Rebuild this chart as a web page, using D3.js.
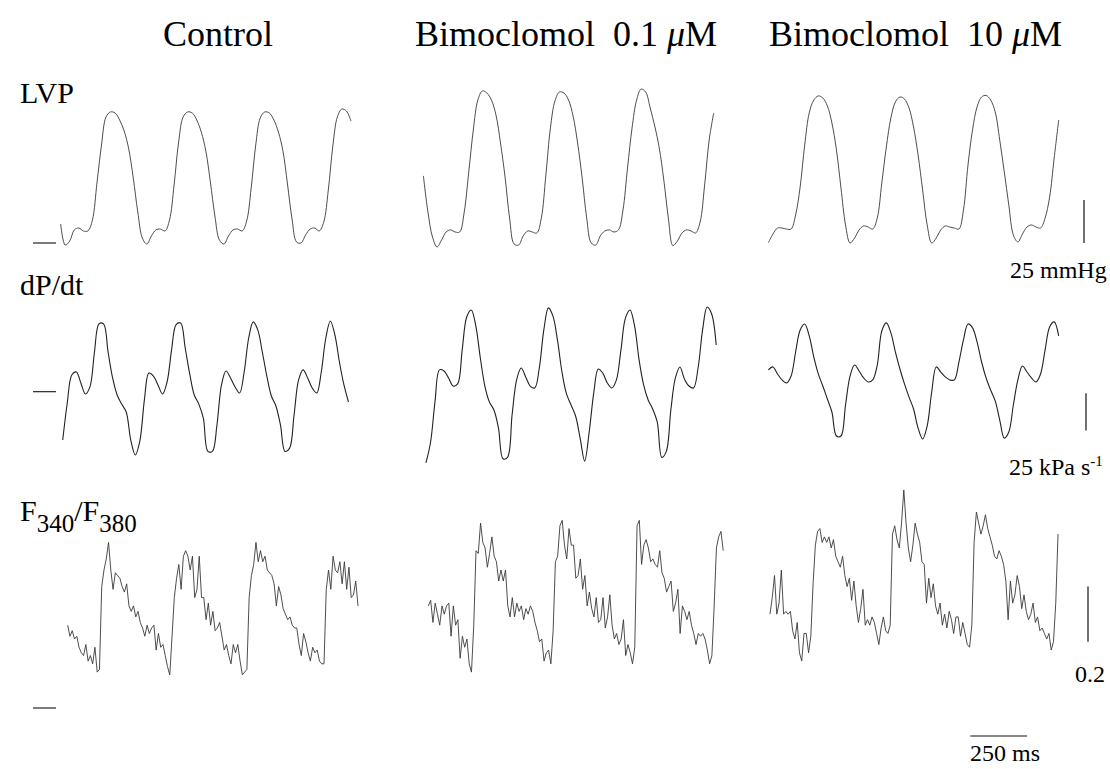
<!DOCTYPE html>
<html>
<head>
<meta charset="utf-8">
<script src="https://cdn.jsdelivr.net/npm/d3@7/dist/d3.min.js"></script>
<style>
    body { margin: 0; background: #fff; }
    svg { display: block; font-family: "Liberation Serif", "Times New Roman", serif; }
</style>
</head>
<body>
<div id="chart"></div>
<script>
// column titles, split so the mu can be set in italic
const columnTitles = [
    [["Control", false]],
    [["Bimoclomol  0.1 ", false], ["\u03bc", true], ["M", false]],
    [["Bimoclomol  10 ", false], ["\u03bc", true], ["M", false]],
]

// row labels, second flag = subscript
const rowLabels = [
    [["LVP", false]],
    [["dP/dt", false]],
    [["F", false], ["340", true], ["/F", false], ["380", true]],
]

// calibration bars: 25 mmHg, 25 kPa/s, 0.2 ratio units, 250 ms
const barSizes = [25, 25, 0.2]
const barLabels = ["25 mmHg", "25 kPa s", "0.2"]
const timeBarMs = 250

// LVP (mmHg), sampled every 20 ms
const lvpControl = [11.0, -1.2, 1.2, 7.6, 8.7, 7.0, 7.0, 13.4, 34.9, 57.0, 73.3, 76.2, 75.6, 71.5, 65.1, 54.7, 37.8, 18.0, 2.9, -0.6, 4.1, 7.6, 8.1, 7.0, 13.4, 33.7, 58.7, 73.3, 76.2, 75.6, 71.5, 64.5, 53.5, 35.5, 15.7, 1.7, -0.6, 4.1, 7.6, 8.1, 7.0, 12.8, 32.0, 57.0, 72.7, 76.2, 75.6, 71.5, 64.5, 53.5, 34.3, 14.0, 0.6, 0, 4.7, 8.1, 8.7, 7.0, 12.2, 30.8, 56.4, 73.3, 77.9, 76.7, 70.9]
const lvpLow = [39.0, 18.0, 3.5, -2.3, 1.7, 6.4, 7.6, 6.4, 6.4, 18.0, 41.3, 65.7, 83.1, 88.4, 87.2, 83.1, 74.4, 58.1, 38.4, 14.5, -0.6, -1.2, 4.1, 7.0, 6.4, 5.8, 14.5, 39.5, 66.9, 82.6, 87.8, 87.2, 83.1, 73.8, 58.1, 37.8, 14.5, 0, -1.2, 4.1, 7.0, 7.6, 6.4, 7.6, 19.2, 43.6, 66.9, 83.1, 89.5, 87.8, 78.5, 68.0, 55.2, 36.6, 14.5, -1.5, 1.2, 5.8, 7.6, 7.0, 5.8, 12.2, 33.7, 59.9, 75.6]
const lvpHigh = [0.2, 5.2, 8.7, 8.7, 8.1, 8.1, 16.3, 32.6, 57.0, 75.6, 83.1, 85.5, 84.3, 79.7, 69.8, 54.1, 32.0, 10.5, 0, 2.9, 7.6, 9.9, 9.3, 8.1, 14.5, 34.9, 55.8, 72.7, 82.0, 84.9, 83.7, 78.5, 67.4, 51.2, 30.8, 10.5, 0, 2.9, 7.6, 9.9, 9.3, 8.7, 8.1, 19.2, 45.3, 65.7, 79.1, 84.9, 85.8, 83.1, 76.2, 59.9, 41.3, 22.1, 4.7, 0.6, 5.2, 9.3, 10.5, 9.3, 8.7, 14.5, 26.7, 49.4, 71.5]

// dP/dt (kPa/s), sampled every 20 ms
const dpControl = [-32.4, -7.6, 11.2, 13.2, 5.8, -1.5, 3.2, 26.6, 45.5, 45.5, 26.6, 9.2, -2.2, -8.3, -13.6, -32.4, -42.4, -33.1, -5.6, 12.5, 10.5, 4.5, -1.5, 6.5, 28.0, 45.0, 46.0, 29.3, 11.9, -2.2, -8.3, -17.7, -40.0, -40.0, -22.3, 4.5, 13.9, 9.2, 3.2, -0.9, 13.2, 36.0, 46.8, 41.4, 26.6, 10.5, -2.9, -9.6, -22.3, -40.0, -38.0, -15.6, 7.9, 14.6, 9.2, 2.5, -0.9, 13.2, 36.0, 47.4, 38.1, 19.9, 4.5, -6.9]
const dpLow = [-47.7, -34.4, -6.9, 14.6, 13.9, 9.2, 3.8, 5.2, 28.0, 50.1, 54.8, 44.1, 22.6, 3.8, -6.9, -12.3, -24.4, -45.0, -44.0, -15.6, 7.9, 15.9, 9.9, 3.8, 2.5, 15.9, 41.4, 56.2, 50.8, 34.7, 13.2, -1.5, -8.9, -16.3, -31.1, -46.5, -27.0, -0.9, 15.2, 12.5, 5.8, 2.5, 7.9, 28.0, 49.5, 54.8, 44.1, 21.3, 4.5, -5.6, -11.6, -20.3, -44.0, -40.0, -12.3, 9.2, 16.6, 8.5, 3.8, 2.5, 15.9, 41.4, 56.8, 52.1, 31.3]
const dpHigh = [14.6, 16.6, 11.9, 7.9, 5.8, 10.5, 26.6, 41.4, 45.4, 37.4, 23.3, 11.9, 3.8, -4.9, -13.6, -29.7, -29.7, -8.9, 10.5, 17.9, 13.9, 9.2, 6.5, 7.9, 17.9, 40.7, 46.1, 39.4, 26.6, 15.2, 5.2, -3.6, -11.6, -24.4, -31.7, -23.0, -0.2, 16.6, 13.2, 9.9, 7.9, 7.9, 19.9, 34.7, 45.4, 42.8, 33.4, 19.9, 9.2, 1.1, -6.2, -19.0, -31.1, -27.0, -8.9, 7.9, 17.2, 13.2, 9.2, 6.5, 11.9, 28.0, 43.4, 46.8, 37.4]

// F340/F380 ratio above the reference mark, sampled every 10 ms
const ratioControl = [0.30, 0.26, 0.28, 0.25, 0.26, 0.22, 0.20, 0.19, 0.23, 0.17, 0.19, 0.16, 0.22, 0.13, 0.14, 0.44, 0.50, 0.54, 0.60, 0.50, 0.43, 0.49, 0.48, 0.47, 0.44, 0.42, 0.45, 0.37, 0.35, 0.37, 0.33, 0.35, 0.31, 0.29, 0.26, 0.30, 0.27, 0.29, 0.30, 0.21, 0.27, 0.22, 0.23, 0.19, 0.15, 0.12, 0.26, 0.40, 0.47, 0.52, 0.43, 0.55, 0.57, 0.55, 0.50, 0.55, 0.40, 0.43, 0.55, 0.40, 0.40, 0.32, 0.38, 0.30, 0.35, 0.28, 0.29, 0.31, 0.26, 0.21, 0.23, 0.19, 0.16, 0.23, 0.20, 0.23, 0.17, 0.12, 0.13, 0.14, 0.40, 0.48, 0.52, 0.60, 0.53, 0.57, 0.53, 0.55, 0.50, 0.49, 0.48, 0.45, 0.37, 0.44, 0.41, 0.36, 0.34, 0.32, 0.33, 0.30, 0.29, 0.29, 0.23, 0.19, 0.27, 0.24, 0.20, 0.17, 0.22, 0.20, 0.21, 0.17, 0.16, 0.16, 0.43, 0.50, 0.43, 0.55, 0.50, 0.49, 0.53, 0.45, 0.53, 0.43, 0.51, 0.40, 0.41, 0.46, 0.37]
const ratioLow = [0.37, 0.39, 0.31, 0.38, 0.34, 0.30, 0.37, 0.34, 0.37, 0.38, 0.26, 0.37, 0.30, 0.32, 0.18, 0.26, 0.22, 0.25, 0.16, 0.13, 0.30, 0.57, 0.56, 0.67, 0.60, 0.58, 0.51, 0.56, 0.62, 0.55, 0.53, 0.46, 0.50, 0.46, 0.50, 0.37, 0.33, 0.40, 0.33, 0.38, 0.35, 0.37, 0.32, 0.36, 0.34, 0.37, 0.35, 0.31, 0.28, 0.24, 0.25, 0.17, 0.20, 0.21, 0.16, 0.28, 0.53, 0.55, 0.66, 0.68, 0.59, 0.54, 0.65, 0.59, 0.59, 0.47, 0.48, 0.54, 0.43, 0.48, 0.37, 0.42, 0.36, 0.33, 0.40, 0.31, 0.32, 0.40, 0.29, 0.33, 0.41, 0.30, 0.25, 0.27, 0.23, 0.25, 0.32, 0.19, 0.23, 0.20, 0.16, 0.22, 0.66, 0.68, 0.52, 0.59, 0.61, 0.58, 0.53, 0.54, 0.52, 0.51, 0.57, 0.49, 0.47, 0.42, 0.44, 0.46, 0.35, 0.38, 0.43, 0.27, 0.37, 0.35, 0.32, 0.35, 0.30, 0.27, 0.23, 0.27, 0.26, 0.27, 0.25, 0.21, 0.16, 0.19, 0.37, 0.58, 0.62, 0.64, 0.57]
const ratioHigh = [0.34, 0.40, 0.48, 0.34, 0.38, 0.50, 0.34, 0.35, 0.34, 0.35, 0.28, 0.25, 0.31, 0.20, 0.17, 0.27, 0.27, 0.20, 0.26, 0.45, 0.59, 0.64, 0.65, 0.60, 0.62, 0.60, 0.62, 0.58, 0.61, 0.55, 0.53, 0.51, 0.55, 0.48, 0.44, 0.47, 0.39, 0.46, 0.37, 0.31, 0.36, 0.43, 0.30, 0.32, 0.30, 0.33, 0.31, 0.27, 0.23, 0.29, 0.33, 0.28, 0.27, 0.30, 0.63, 0.66, 0.61, 0.58, 0.67, 0.79, 0.67, 0.58, 0.53, 0.59, 0.67, 0.63, 0.60, 0.53, 0.52, 0.38, 0.47, 0.40, 0.45, 0.37, 0.34, 0.38, 0.30, 0.34, 0.29, 0.35, 0.32, 0.27, 0.33, 0.33, 0.26, 0.31, 0.27, 0.23, 0.22, 0.30, 0.60, 0.71, 0.67, 0.63, 0.66, 0.70, 0.65, 0.62, 0.59, 0.55, 0.54, 0.57, 0.55, 0.52, 0.46, 0.32, 0.46, 0.38, 0.41, 0.48, 0.44, 0.36, 0.41, 0.35, 0.32, 0.34, 0.38, 0.31, 0.33, 0.28, 0.29, 0.27, 0.25, 0.27, 0.21, 0.24, 0.38, 0.63]

// each record: row, column, start time (ms), sample step (ms)
const traces = [
    { row: 0, col: 0, t0: 3, dt: 20, values: lvpControl },
    { row: 0, col: 1, t0: 15, dt: 20, values: lvpLow },
    { row: 0, col: 2, t0: 15, dt: 20, values: lvpHigh },
    { row: 1, col: 0, t0: 12, dt: 20, values: dpControl },
    { row: 1, col: 1, t0: 26, dt: 20, values: dpLow },
    { row: 1, col: 2, t0: 15, dt: 20, values: dpHigh },
    { row: 2, col: 0, t0: 34, dt: 10, values: ratioControl },
    { row: 2, col: 1, t0: 37, dt: 10, values: ratioLow },
    { row: 2, col: 2, t0: 22, dt: 10, values: ratioHigh },
]

const width = 1110
const height = 769
const pxPerMs = 56.7 / 250
const columnX = [60, 420, 765]
const titleX = [163, 415, 769]

const svg = d3
    .select("#chart")
    .append("svg")
    .attr("width", width)
    .attr("height", height)

const xScales = columnX.map((x0) =>
    d3.scaleLinear().domain([0, 1400]).range([x0, x0 + 1400 * pxPerMs]),
)

const yScales = [
    d3.scaleLinear().domain([0, 25]).range([243, 200]),
    d3.scaleLinear().domain([0, 25]).range([391.7, 354.4]),
    d3.scaleLinear().domain([0, 0.2]).range([708, 652.8]),
]

// titles
columnTitles.forEach((parts, i) => {
    const t = svg
        .append("text")
        .attr("x", titleX[i])
        .attr("y", 46)
        .attr("font-size", 36)
        .style("white-space", "pre")
    parts.forEach((p) => {
        t.append("tspan")
            .text(p[0])
            .attr("font-style", p[1] ? "italic" : null)
    })
})

// row labels
const labelBaseline = [103, 295, 521]
rowLabels.forEach((parts, i) => {
    const t = svg
        .append("text")
        .attr("x", 20)
        .attr("y", labelBaseline[i])
        .attr("font-size", 30)
    let shifted = false
    parts.forEach((p) => {
        const sp = t.append("tspan").text(p[0])
        if (p[1]) {
            sp.attr("font-size", 25).attr("dy", 11)
            shifted = true
        } else if (shifted) {
            sp.attr("dy", -11)
            shifted = false
        }
    })
})

// zero reference marks on the left
yScales.forEach((y) => {
    svg.append("line")
        .attr("x1", 33)
        .attr("x2", 56)
        .attr("y1", y(0))
        .attr("y2", y(0))
        .attr("stroke", "#111")
        .attr("stroke-width", 1.1)
})

// traces
traces.forEach((tr) => {
    const x = xScales[tr.col]
    const y = yScales[tr.row]
    const line = d3
        .line()
        .x((d, i) => x(tr.t0 + i * tr.dt))
        .y((d) => y(d))
        .curve(tr.row < 2 ? d3.curveCatmullRom : d3.curveLinear)
    svg.append("path")
        .datum(tr.values)
        .attr("d", line)
        .attr("fill", "none")
        .attr("stroke", tr.row === 1 ? "#222" : "#3a3a3a")
        .attr("stroke-width", tr.row === 1 ? 1.1 : 0.9)
        .attr("stroke-linejoin", "round")
})

// vertical calibration bars
const barX = [1084, 1086, 1088]
const barStart = [0, -1, 0.24]
const barTextY = [278, 475, 682]
const barTextX = [1010, 1009, 1075]
barSizes.forEach((size, i) => {
    const y = yScales[i]
    const dir = i === 1 ? -1 : 1
    svg.append("line")
        .attr("x1", barX[i])
        .attr("x2", barX[i])
        .attr("y1", y(barStart[i]))
        .attr("y2", y(barStart[i] + dir * size))
        .attr("stroke", "#111")
        .attr("stroke-width", 1.2)
    const t = svg
        .append("text")
        .attr("x", barTextX[i])
        .attr("y", barTextY[i])
        .attr("font-size", 24)
        .text(barLabels[i])
    if (i === 1) {
        t.append("tspan").attr("font-size", 15).attr("dy", -9).text("-1")
    }
})

// time bar, drawn on the last column's time axis
const xt = xScales[2]
svg.append("line")
    .attr("x1", xt(905))
    .attr("x2", xt(905 + timeBarMs))
    .attr("y1", 736)
    .attr("y2", 736)
    .attr("stroke", "#111")
    .attr("stroke-width", 1.1)

svg.append("text")
    .attr("x", 970)
    .attr("y", 761)
    .attr("font-size", 24)
    .text(timeBarMs + " ms")
</script>
</body>
</html>
